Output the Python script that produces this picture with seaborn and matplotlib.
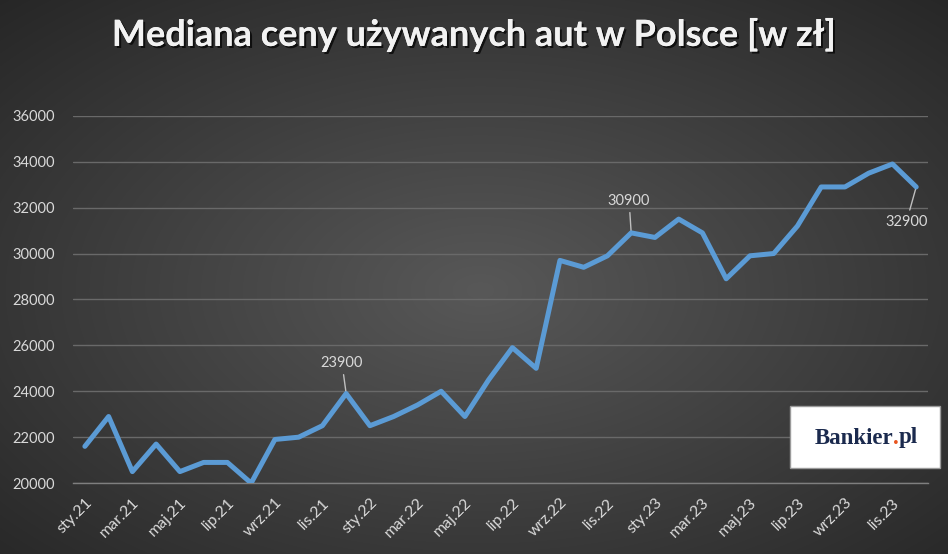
import matplotlib
matplotlib.use('Agg')
import matplotlib.pyplot as plt
import matplotlib.patheffects as pe
from matplotlib.patches import Rectangle
import seaborn as sns
import numpy as np
import pandas as pd

MONTHS = ['sty', 'lut', 'mar', 'kwi', 'maj', 'cze', 'lip', 'sie', 'wrz', 'paź', 'lis', 'gru']
YEARS = ['21', '22', '23']
periods = [f'{m}.{y}' for y in YEARS for m in MONTHS]

prices = [21600, 22900, 20500, 21700, 20500, 20900, 20900, 20000, 21900, 22000, 22500, 23900,
          22500, 22900, 23400, 24000, 22900, 24500, 25900, 25000, 29700, 29400, 29900, 30900,
          30700, 31500, 30900, 28900, 29900, 30000, 31200, 32900, 32900, 33500, 33900, 32900]

labelled_points = [11, 23, 35]
yticks = [20000, 22000, 24000, 26000, 28000, 30000, 32000, 34000, 36000]

TITLE = 'Mediana ceny używanych aut w Polsce [w zł]'
LINE_COLOR = '#5B9BD5'
TEXT_COLOR = '#d9d9d9'
GRID_COLOR = '#696969'

df = pd.DataFrame({'period': periods, 'price': prices})
df['idx'] = np.arange(len(df))

sns.set_style('dark')
plt.rcParams['font.family'] = ['Lato', 'DejaVu Sans']

fig = plt.figure(figsize=(9.48, 5.54), dpi=100)

# radial grey gradient background
bg = fig.add_axes([0, 0, 1, 1], zorder=-10)
h, w = 554, 948
yy, xx = np.mgrid[0:h, 0:w]
r = np.sqrt(((xx - 480) / (w / 2)) ** 2 + ((yy - 290) / (h / 2)) ** 2) / np.sqrt(2)
shade = (88 - 48 * np.clip(r, 0, 1.1)) / 255.0
bg.imshow(np.dstack([shade, shade, shade]), aspect='auto', extent=[0, 1, 0, 1])
bg.axis('off')

ax = fig.add_axes([0.077, 0.128, 0.902, 0.663])
ax.patch.set_alpha(0)

sns.lineplot(data=df, x='idx', y='price', ax=ax, color=LINE_COLOR, linewidth=3.6,
             solid_joinstyle='round', solid_capstyle='round', zorder=5)

ax.set_xlim(-0.5, len(df) - 0.5)
ax.set_ylim(20000, 36000)
ax.set_yticks(yticks)
ax.set_yticklabels([str(v) for v in yticks])
ax.yaxis.grid(True, color=GRID_COLOR, linewidth=1)
ax.xaxis.grid(False)

ax.set_xticks(df['idx'][::2])
ax.set_xticklabels(df['period'][::2], rotation=45, ha='right', rotation_mode='anchor')
ax.set_xticks(np.arange(-0.5, len(df), 2), minor=True)
ax.tick_params(axis='x', which='major', length=0, pad=9, labelsize=11.5, labelcolor=TEXT_COLOR)
ax.tick_params(axis='x', which='minor', length=4, width=1, color='#7f7f7f', direction='out')
ax.tick_params(axis='y', length=0, pad=13, labelsize=10.5, labelcolor=TEXT_COLOR)
ax.set_xlabel('')
ax.set_ylabel('')

for side in ['top', 'right', 'left']:
    ax.spines[side].set_visible(False)
ax.spines['bottom'].set_color('#7f7f7f')
ax.spines['bottom'].set_linewidth(1)

offsets = {11: (-3, 22), 23: (-1.5, 23), 35: (-7, -25)}
for i in labelled_points:
    ax.annotate(str(prices[i]), xy=(i, prices[i]), xytext=offsets[i], textcoords='offset points',
                ha='center', va='center', fontsize=10.5, color=TEXT_COLOR,
                arrowprops=dict(arrowstyle='-', color='#bfbfbf', lw=1, shrinkA=1, shrinkB=0))

fig.text(0.5, 0.937, TITLE, ha='center', va='center', fontsize=26, fontweight='bold',
         color='#f2f2f2',
         path_effects=[pe.withSimplePatchShadow(offset=(1.5, -1.5), shadow_rgbFace='black', alpha=0.7),
                       pe.Normal()])

# Bankier.pl logo box
fig.patches.append(Rectangle((790 / w, 1 - 468 / h), 150 / w, 62 / h, transform=fig.transFigure,
                             facecolor='white', edgecolor='#9a9a9a', linewidth=1, zorder=20))
fig.canvas.draw()
rend = fig.canvas.get_renderer()
logo_kw = dict(fontsize=16.5, fontweight='bold', family='Liberation Serif', va='center', zorder=21)
ly = 1 - 438 / h
probe = fig.text(0, ly, 'Bankier.pl', **logo_kw)
total = probe.get_window_extent(rend).width
probe.remove()
x = 865 - total / 2
for part, col in [('Bankier', '#1b2a4e'), ('.', '#e8541e'), ('pl', '#1b2a4e')]:
    t = fig.text(x / w, ly, part, color=col, ha='left', **logo_kw)
    x = t.get_window_extent(rend).x1

fig.savefig('out.png', dpi=100)
